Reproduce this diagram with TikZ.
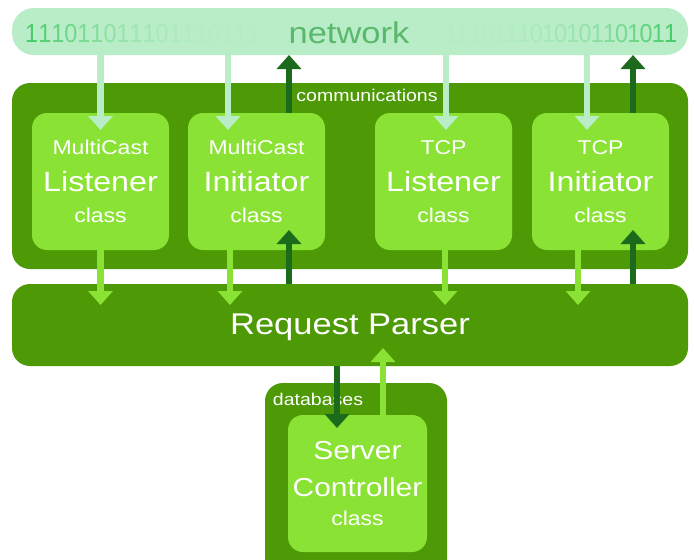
\documentclass[tikz,border=0pt]{standalone}
\usepackage{xcolor}
\usepackage{fontspec}
\setmainfont{Liberation Sans}[FakeStretch=1.15]
\newfontfamily\bitsfont{Liberation Sans}[FakeStretch=0.9]
\usetikzlibrary{arrows.meta,positioning}

\definecolor{netbg}{HTML}{B8EDC8}
\definecolor{nettext}{HTML}{5AB86C}
\definecolor{bitgreen}{HTML}{48CC68}
\definecolor{darkbox}{HTML}{4E9A06}
\definecolor{lightbox}{HTML}{8AE234}
\definecolor{darkflow}{HTML}{1C6B1C}

\begin{document}
\begin{tikzpicture}[x=1pt,y=-1pt,
  panel/.style={fill=#1,anchor=north west,inner sep=0pt,outer sep=0pt},
  netbar/.style={panel=netbg,rounded corners=22pt},
  outer/.style={panel=darkbox,rounded corners=18pt},
  classbox/.style={panel=lightbox,rounded corners=15pt,minimum width=137pt,minimum height=137pt,
    text=white,align=center,font=\fontsize{20}{34}\selectfont},
  caption/.style={text=white,inner sep=0pt,anchor=base,font=\fontsize{17}{20}\selectfont},
  bit/.style={inner sep=0pt,anchor=base west,text=bitgreen!#1!netbg,font=\bitsfont\fontsize{26}{30}\selectfont},
  tip/.style={-{Triangle[width=24pt,length=14pt]}},
  netflow/.style={tip,line width=6.5pt,draw=netbg},
  upflow/.style={tip,line width=6.5pt,draw=darkflow},
  downflow/.style={tip,line width=6.5pt,draw=lightbox}]
\useasboundingbox (0,0) rectangle (694,560);
\clip (0,0) rectangle (694,560);

% network
\node[netbar,minimum width=676pt,minimum height=47pt] (net) at (12,8) {};
% bits fade towards the title
\foreach \b [count=\i] in {1,1,1,0,1,1,0,1,1,1,0,1,1,1,0,1,1,1}{
  \pgfmathtruncatemacro{\p}{max(0,3+97*(1-(\i-1)/15)^2)}
  \node[bit=\p] (bitl-\i) at (25+13.05*\i-13.05,42) {\b};
}
\foreach \b [count=\i] in {1,1,1,0,1,1,1,0,1,0,1,0,1,1,0,1,0,1,1}{
  \pgfmathtruncatemacro{\p}{max(0,3+97*((\i-3)/16)^2)}
  \node[bit=\p] (bitr-\i) at (432+12.2*\i,42) {\b};
}
\node[inner sep=0pt,anchor=base,text=nettext,font=\fontsize{30}{34}\selectfont] (nettitle) at (349,43) {network};

% communications
\node[outer,minimum width=676pt,minimum height=186pt] (comm) at (12,83) {};
\node[caption] (commtitle) at (367,101) {communications};
\node[classbox] (ml) at (32,113) {MultiCast\\[3pt]{\fontsize{28}{34}\selectfont Listener}\\[-3pt]class};
\node[classbox] (mi) at (188,113) {MultiCast\\[3pt]{\fontsize{28}{34}\selectfont Initiator}\\[-3pt]class};
\node[classbox] (tl) at (375,113) {TCP\\[3pt]{\fontsize{28}{34}\selectfont Listener}\\[-3pt]class};
\node[classbox] (ti) at (532,113) {TCP\\[3pt]{\fontsize{28}{34}\selectfont Initiator}\\[-3pt]class};

% request parser
\node[outer,minimum width=676pt,minimum height=82pt] (rp) at (12,284) {};
\node[inner sep=0pt,anchor=base,text=white,font=\fontsize{30}{34}\selectfont] (rptitle) at (350,334) {Request Parser};

% databases
\node[outer,minimum width=182pt,minimum height=200pt] (db) at (265,383) {};
\node[caption] (dbtitle) at (318,405) {databases};
\node[classbox,minimum width=139pt,font=\fontsize{20}{37}\selectfont] (sc) at (288,415)
  {{\fontsize{26}{37}\selectfont Server}\\{\fontsize{26}{37}\selectfont Controller}\\[-8pt]class};

% in from the network
\foreach \cls/\dx in {ml/0,mi/-28.5,tl/2.5,ti/-13.5}{
  \coordinate (\cls-in) at ([xshift=\dx pt]\cls.north);
  \draw[netflow] (net.south -| \cls-in) -- ([yshift=-17pt]\cls-in);
}
% out to the network and in from the parser
\foreach \cls in {mi,ti}{
  \coordinate (\cls-out) at ([xshift=32.5pt]\cls.north);
  \draw[upflow] (\cls-out) -- (net.south -| \cls-out);
  \draw[upflow] (rp.north -| \cls-out) -- ([yshift=20pt]\cls.south -| \cls-out);
}
% down to the parser
\foreach \cls/\dx in {ml/0,mi/-26.5,tl/1.5,ti/-22.5}{
  \coordinate (\cls-down) at ([xshift=\dx pt]\cls.south);
  \draw[downflow] (\cls-down) -- ([yshift=-21pt]rp.north -| \cls-down);
}
% parser and server controller
\coordinate (sc-in) at ([xshift=-20.5pt]sc.north);
\coordinate (sc-out) at ([xshift=25.5pt]sc.north);
\draw[upflow] (rp.south -| sc-in) -- ([yshift=-13pt]sc-in);
\draw[downflow] (sc-out) -- ([yshift=18pt]rp.south -| sc-out);
\end{tikzpicture}
\end{document}
